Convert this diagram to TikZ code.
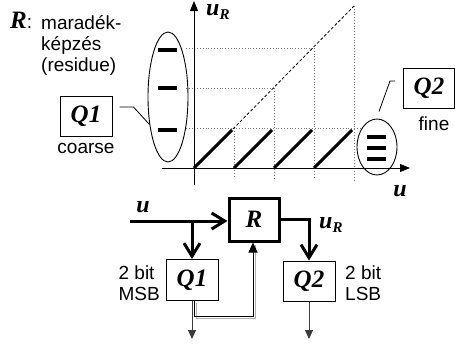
\documentclass[tikz,border=0pt]{standalone}
\usepackage{fontspec}
\setmainfont{Liberation Sans}
\newfontfamily\tnr{Liberation Serif}
\usepackage{tikz}
\usetikzlibrary{arrows.meta,positioning,shapes.geometric}
\newcommand\sbi{\tnr\bfseries\itshape}
\newcommand\symsize{\fontsize{25}{25}\selectfont}
\newcommand\txtsize{\fontsize{19}{21}\selectfont}
\newcommand\uR{{\sbi\fontsize{24}{24}\selectfont u}\raisebox{-4pt}{\sbi\fontsize{15}{15}\selectfont R}}
\definecolor{dotgray}{RGB}{120,120,120}
\definecolor{linegray}{RGB}{60,60,60}
\definecolor{shadegray}{RGB}{175,175,175}
\tikzset{
  qbox/.style={draw, line width=1pt, inner sep=0pt, minimum width=52,
    minimum height=41, font=\sbi\symsize},
  rblock/.style={draw, line width=3pt, inner sep=0pt, minimum width=50,
    minimum height=43, font=\sbi\symsize},
  label/.style={inner sep=0pt, font=\txtsize, align=left},
  axis/.style={line width=0.9pt, -{Triangle[length=10pt,width=8pt]}},
  grid/.style={dotgray, dotted, line width=0.8pt},
  tooth/.style={line width=3pt},
  level/.style={line width=4pt},
  oval/.style={ellipse, draw, line width=0.9pt, inner sep=0pt},
  bigarrow/.style={line width=3pt, -{Straight Barb[length=13pt,width=16pt]}},
  outarrow/.style={linegray, line width=0.9pt, -{Triangle[length=9pt,width=8pt]}},
  pointer/.style={line width=0.8pt}
}

\begin{document}
\begin{tikzpicture}[x=1pt,y=-1pt]
  \useasboundingbox (0,0) rectangle (455,343);

  % transfer curve of the residue
  \draw[grid] (186,128) -- (360,128);
  \draw[grid] (186,88) -- (274,88);
  \draw[grid] (186,48) -- (314,48);
  \draw[grid] (234,128) -- (234,176);
  \draw[grid] (274,88) -- (274,179);
  \draw[grid] (314,48) -- (314,179);
  \draw[grid] (354,6) -- (354,182);
  \draw[line width=0.8pt, dash pattern=on 3pt off 2pt] (233,129) -- (354,6);
  \draw[axis] (162,168) -- (410,168);
  \draw[axis] (194,185) -- (194,1);
  \foreach \x in {194,234,274,314}
    \draw[tooth] (\x,168) -- (\x+38,130);
  \node[anchor=base west, inner sep=0pt] (uRax) at (206,15) {\uR};
  \node[inner sep=0pt] (uax) at (400,191) {\sbi\fontsize{24}{24}\selectfont u};

  % coarse levels
  \node[oval, minimum width=40, minimum height=130] (ellL) at (168,97) {};
  \foreach \y in {50,88,130}
    \draw[level] (158,\y) -- (177,\y);
  \node[qbox, minimum height=40] (q1c) at (86,116) {Q1};
  \node[label, below=7pt of q1c] (coarse) {coarse};
  \draw[pointer] ([xshift=7pt,yshift=9pt]q1c.east) -- ++(14,0) -- (ellL.236);

  % fine levels
  \node[oval, minimum width=40, minimum height=56] (ellR) at (377,147) {};
  \foreach \y in {137,148,159}
    \draw[level] (367,\y) -- (386,\y);
  \node[qbox, minimum width=51, minimum height=40] (q2c) at (429,88) {Q2};
  \node[label, below=8pt of q2c, xshift=5pt] (fine) {fine};
  \draw[pointer] ([xshift=-8pt,yshift=7pt]q2c.west) -- ++(-5,0)
    -- ([xshift=2pt,yshift=7pt]ellR.north);

  % R: residue
  \node[anchor=base west, inner sep=0pt, font=\txtsize] (rtag) at (10,28)
    {{\sbi\fontsize{25}{25}\selectfont R}:};
  \node[label, anchor=north west] (rtext) at (41,15) {maradék-\\képzés\\(residue)};

  % two-step converter
  \node[rblock] (rbox) at (254,219.5) {R};
  \node[qbox] (q1b) at (192,280) {Q1};
  \node[qbox, minimum height=40] (q2b) at (309,281) {Q2};
  \coordinate (uin) at (130,221);
  \coordinate (br) at (q1b.north |- uin);
  \node[inner sep=0pt] (ulab) at (143,207) {\sbi\fontsize{24}{24}\selectfont u};
  \draw[bigarrow] (uin) -- (uin -| rbox.west);
  \draw[bigarrow] (br) -- (q1b.north);
  \draw[bigarrow] (rbox.east) -| (q2b.north);
  \node[anchor=west, inner sep=0pt] (uRb) at (319,225) {\uR};
  \node[label, anchor=east] (msb) at (160,283) {2 bit\\MSB};
  \node[label, anchor=west] (lsb) at (345,283) {2 bit\\LSB};
  \coordinate (fb) at (253,316);
  \draw[shadegray, line width=1pt, transform canvas={xshift=2pt,yshift=-2pt}]
    ([xshift=2pt]q1b.south) |- (fb) -- (fb |- rbox.south);
  \draw[line width=1pt, -{Triangle[length=10pt,width=9pt]}]
    ([xshift=2pt]q1b.south) |- (fb) -- (fb |- rbox.south);
  \coordinate (q1out) at (q1b.south |- 0,339);
  \coordinate (q2out) at (q2b.south |- 0,339);
  \draw[outarrow] (q1b.south) -- (q1out);
  \draw[outarrow] (q2b.south) -- (q2out);
\end{tikzpicture}
\end{document}
